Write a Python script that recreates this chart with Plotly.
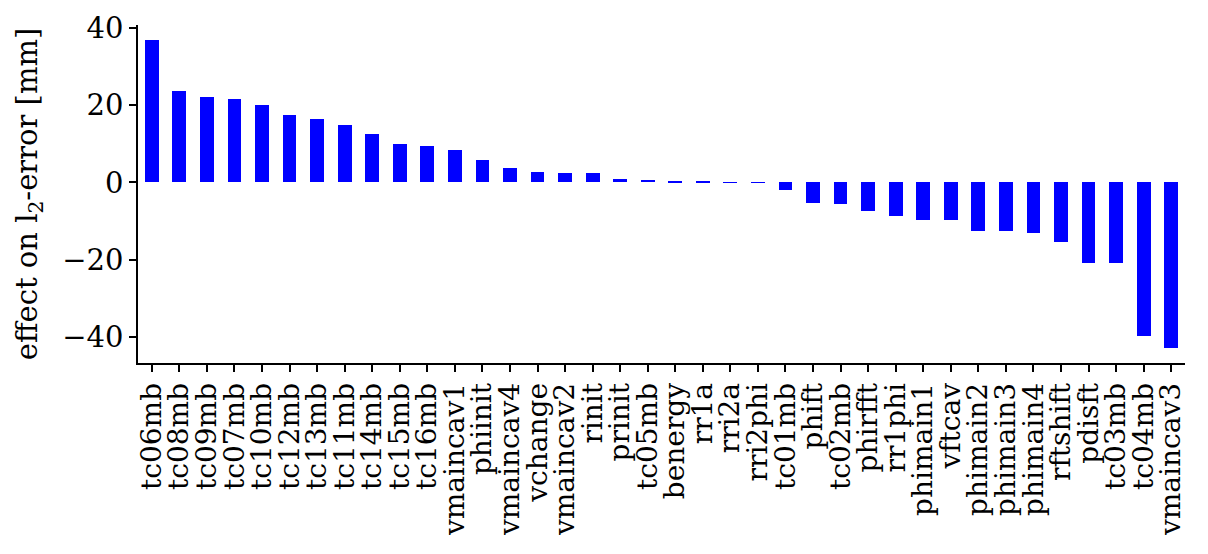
import plotly.graph_objects as go

categories = ["tc06mb", "tc08mb", "tc09mb", "tc07mb", "tc10mb", "tc12mb", "tc13mb",
              "tc11mb", "tc14mb", "tc15mb", "tc16mb", "vmaincav1", "phiinit",
              "vmaincav4", "vchange", "vmaincav2", "rinit", "prinit", "tc05mb",
              "benergy", "rr1a", "rri2a", "rri2phi", "tc01mb", "phift", "tc02mb",
              "phirfft", "rr1phi", "phimain1", "vftcav", "phimain2", "phimain3",
              "phimain4", "rftshift", "pdisft", "tc03mb", "tc04mb", "vmaincav3"]
values = [36.7, 23.7, 22.1, 21.6, 19.95, 17.5, 16.4, 14.9, 12.6, 9.85, 9.4, 8.3, 5.7,
          3.7, 2.8, 2.5, 2.4, 1.0, 0.6, 0.4, 0.25, 0.1, 0.05, -2.0, -5.4, -5.6,
          -7.3, -8.6, -9.6, -9.8, -12.5, -12.6, -13.2, -15.3, -20.7, -20.7, -39.6, -42.7]
ytick_vals = [-40, -20, 0, 20, 40]
ytick_text = ["\u221240", "\u221220", "0", "20", "40"]

FONT = "DejaVu Serif"

fig = go.Figure(go.Bar(
    x=list(range(len(categories))), y=values, width=0.5,
    marker=dict(color="#0000ff", line=dict(width=0)),
))

fig.update_layout(
    width=1208, height=554,
    margin=dict(l=138, r=23, t=25, b=191),
    paper_bgcolor="white", plot_bgcolor="white",
    showlegend=False,
    font=dict(family=FONT, size=28, color="black"),
    bargap=0,
)
fig.update_xaxes(
    range=[-0.5, len(categories) - 0.5],
    tickmode="array", tickvals=list(range(len(categories))), ticktext=categories,
    tickangle=-90, ticks="outside", ticklen=7, tickwidth=1.5, tickcolor="black",
    showline=True, linecolor="black", linewidth=1.5, showgrid=False, zeroline=False,
    tickfont=dict(family=FONT, size=28),
)
fig.update_yaxes(
    range=[-46.67, 40.67],
    tickmode="array", tickvals=ytick_vals, ticktext=ytick_text,
    ticks="outside", ticklen=7, tickwidth=1.5, tickcolor="black",
    showline=True, linecolor="black", linewidth=1.5, showgrid=False, zeroline=False,
    tickfont=dict(family=FONT, size=29),
    title=dict(text="effect on l<sub>2</sub>-error [mm]", font=dict(family=FONT, size=29), standoff=16),
)

fig.write_html("out.html")
